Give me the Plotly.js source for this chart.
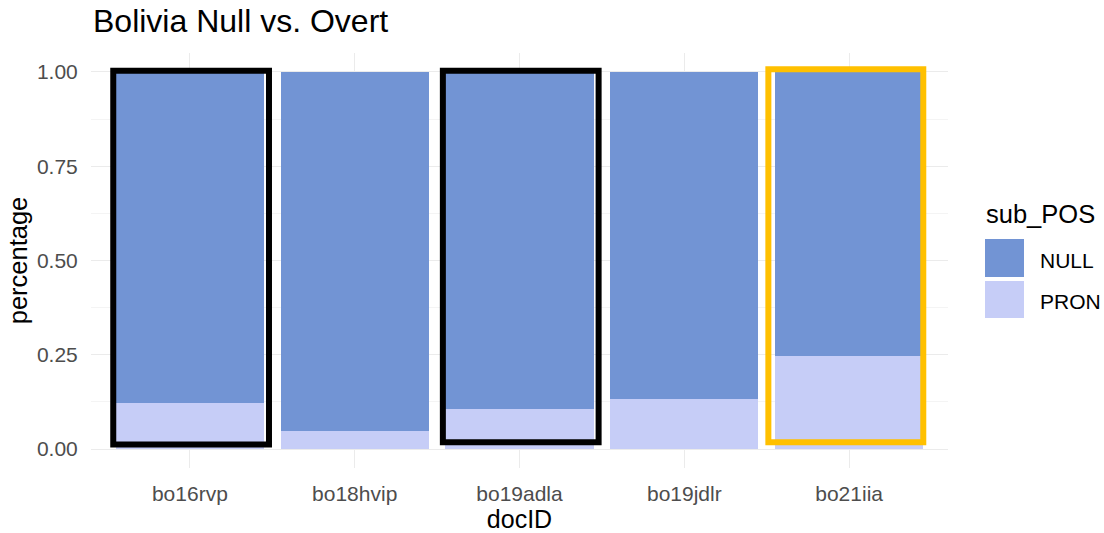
<!DOCTYPE html>
<html>
<head>
<meta charset="utf-8">
<script src="https://cdn.plot.ly/plotly-3.0.1.min.js"></script>
<style>html,body{margin:0;padding:0;background:#fff;}#chart{width:1104px;height:533px;}</style>
</head>
<body>
<div id="chart"></div>
<script>
// ---- data ----
const docIDs = ['bo16rvp', 'bo18hvip', 'bo19adla', 'bo19jdlr', 'bo21iia'];
const pronValues = [0.121, 0.049, 0.106, 0.134, 0.247];
const nullValues = [0.879, 0.951, 0.894, 0.866, 0.753];
const seriesNames = ['NULL', 'PRON'];
const highlightDocs = ['bo16rvp', 'bo19adla', 'bo21iia'];
const highlightColors = ['#000000', '#000000', '#FFC000'];
const yTicks = [0, 0.25, 0.5, 0.75, 1];

// ---- styles ----
const COL_NULL = '#7294D4', COL_PRON = '#C6CDF7';
const FONT = 'Liberation Sans, Arial, sans-serif';
const W = 1104, H = 533, ML = 91, MR = 156, MT = 53, MB = 65;
const pw = W - ML - MR, ph = H - MT - MB;
const px = x => (x - ML) / pw;
const py = y => (H - MB - y) / ph;

const traces = [
  {type: 'bar', name: seriesNames[1], x: docIDs, y: pronValues,
   marker: {color: COL_PRON, line: {width: 0}}, width: 0.9, showlegend: false, hoverinfo: 'x+y+name'},
  {type: 'bar', name: seriesNames[0], x: docIDs, y: nullValues,
   marker: {color: COL_NULL, line: {width: 0}}, width: 0.9, showlegend: false, hoverinfo: 'x+y+name'}
];

const shapes = [];
highlightDocs.forEach((d, i) => {
  const idx = docIDs.indexOf(d);
  const gold = highlightColors[i] !== '#000000';
  shapes.push({type: 'rect', xref: 'x', yref: 'y',
    x0: idx - (gold ? 0.49 : 0.465), x1: idx + (gold ? 0.45 : 0.48),
    y0: gold ? 0.018 : (idx === 0 ? 0.012 : 0.018), y1: gold ? 1.007 : 1.003,
    line: {color: highlightColors[i], width: 6}, fillcolor: 'rgba(0,0,0,0)', layer: 'above'});
});
// legend keys
const legendKeys = [[COL_NULL, 239, 277], [COL_PRON, 281, 318]];
legendKeys.forEach(k => {
  shapes.push({type: 'rect', xref: 'paper', yref: 'paper',
    x0: px(985), x1: px(1024), y0: py(k[2]), y1: py(k[1]),
    fillcolor: k[0], line: {width: 0}});
});

const annotations = [
  {text: 'sub_POS', xref: 'paper', yref: 'paper', x: px(984), y: py(214), xanchor: 'left', yanchor: 'middle',
   showarrow: false, font: {family: FONT, size: 25.5, color: '#000'}},
  {text: seriesNames[0], xref: 'paper', yref: 'paper', x: px(1038), y: py(260), xanchor: 'left', yanchor: 'middle',
   showarrow: false, font: {family: FONT, size: 21, color: '#000'}},
  {text: seriesNames[1], xref: 'paper', yref: 'paper', x: px(1038), y: py(301), xanchor: 'left', yanchor: 'middle',
   showarrow: false, font: {family: FONT, size: 21, color: '#000'}}
];

const layout = {
  width: W, height: H,
  margin: {l: ML, r: MR, t: MT, b: MB, pad: 0},
  paper_bgcolor: '#fff', plot_bgcolor: '#fff',
  barmode: 'stack',
  font: {family: FONT},
  title: {text: 'Bolivia Null vs. Overt', x: 0, xref: 'paper', xanchor: 'left',
          y: 1 - 21 / H, yref: 'container', yanchor: 'middle', pad: {l: 2},
          font: {family: FONT, size: 32, color: '#000'}},
  xaxis: {type: 'category', range: [-0.6, 4.6], showgrid: true, gridcolor: '#EBEBEB', gridwidth: 1.1,
          zeroline: false, showline: false, ticks: 'outside', ticklen: 7, tickcolor: 'rgba(0,0,0,0)',
          tickfont: {family: FONT, size: 21, color: '#4D4D4D'}, automargin: false,
          title: {text: 'docID', standoff: 3, font: {family: FONT, size: 25, color: '#000'}}},
  yaxis: {range: [-0.05, 1.05], tickvals: yTicks, tickformat: '.2f', showgrid: true, gridcolor: '#EBEBEB', gridwidth: 1.1,
          minor: {dtick: 0.125, tick0: 0.125, showgrid: true, gridcolor: '#F0F0F0', gridwidth: 0.7},
          zeroline: false, showline: false, ticks: 'outside', ticklen: 8, tickcolor: 'rgba(0,0,0,0)',
          tickfont: {family: FONT, size: 21, color: '#4D4D4D'}, automargin: false,
          title: {text: 'percentage', standoff: 1, font: {family: FONT, size: 25.5, color: '#000'}}},
  shapes: shapes,
  annotations: annotations,
  showlegend: false
};

Plotly.newPlot('chart', traces, layout, {displayModeBar: false, staticPlot: true});
</script>
</body>
</html>
